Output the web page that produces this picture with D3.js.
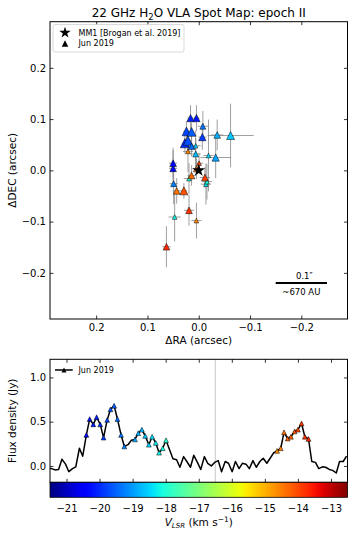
<!DOCTYPE html>
<html>
<head>
<meta charset="utf-8">
<script src="https://cdn.jsdelivr.net/npm/d3@7"></script>
<style>
body { margin: 0; background: #fff; }
svg { display: block; font-family: "DejaVu Sans", sans-serif; }
</style>
</head>
<body>
<div id="chart"></div>
<script>
// spectrum channels (km/s) and flux density (Jy)
const chanVel = [-21.56, -21.45, -21.35, -21.24, -21.14, -21.03, -20.93, -20.82, -20.72, -20.61,
    -20.51, -20.40, -20.30, -20.19, -20.09, -19.98, -19.88, -19.77, -19.67, -19.56,
    -19.46, -19.35, -19.25, -19.14, -19.04, -18.93, -18.83, -18.72, -18.62, -18.51,
    -18.41, -18.30, -18.20, -18.09, -17.99, -17.88, -17.78, -17.67, -17.57, -17.46,
    -17.36, -17.25, -17.15, -17.04, -16.94, -16.83, -16.73, -16.62, -16.52, -16.41,
    -16.31, -16.20, -16.10, -15.99, -15.89, -15.78, -15.68, -15.57, -15.47, -15.36,
    -15.26, -15.15, -15.05, -14.94, -14.84, -14.73, -14.63, -14.52, -14.42, -14.31,
    -14.21, -14.10, -14.00, -13.89, -13.79, -13.68, -13.58, -13.47, -13.37, -13.26,
    -13.16, -13.05, -12.95, -12.84, -12.74, -12.63, -12.53];
const chanFlux = [-0.03, -0.03, -0.045, -0.04, 0.075, 0.02, -0.065, -0.03, -0.01, 0.2,
    0.11, 0.35, 0.53, 0.47, 0.55, 0.47, 0.32, 0.52, 0.64, 0.68,
    0.53, 0.35, 0.22, 0.24, 0.29, 0.30, 0.37, 0.41, 0.34, 0.24,
    0.33, 0.26, 0.15, 0.20, 0.29, 0.18, 0.08, 0.07, -0.015, 0.105,
    0.05, -0.015, 0.12, 0.04, -0.04, 0.105, 0.03, 0.0, 0.04, 0.06,
    -0.065, 0.05, 0.03, -0.065, 0.05, -0.03, 0.03, 0.02, -0.03, 0.06,
    -0.015, 0.05, 0.087, 0.03, 0.087, 0.15, 0.17, 0.20, 0.38, 0.31,
    0.33, 0.39, 0.41, 0.48, 0.33, 0.305, 0.05, 0.04, -0.03, -0.01,
    -0.015, -0.04, -0.05, -0.08, 0.05, 0.05, 0.11];

// maser spots (one per marked channel)
const spotVel = [-20.40, -20.30, -20.19, -20.09, -19.98, -19.88, -19.77, -19.67, -19.56, -19.46, -19.35, -19.25,
    -18.93, -18.83, -18.72, -18.62, -18.51, -18.41, -18.30, -18.20, -18.09, -17.99,
    -14.63, -14.52, -14.42, -14.31, -14.21, -14.10, -14.00, -13.89, -13.79, -13.68];
const spotRA = [0.050, 0.050, 0.0045, 0.016, 0.027, -0.007, 0.024, 0.021, 0.014, 0.014, -0.008, 0.049,
    -0.033, -0.036, 0.006, -0.062, 0.006, -0.019, -0.014, 0.047, 0.019, -0.016,
    0.0045, 0.021, 0.043, 0.014, 0.0045, 0.029, -0.0006, -0.012, 0.019, 0.063];
const spotDEC = [0.004, 0.014, 0.102, 0.102, 0.053, 0.065, 0.076, 0.058, 0.075, 0.047, 0.086, -0.026,
    0.025, 0.069, 0.032, 0.068, 0.048, 0.029, -0.027, -0.091, -0.016, -0.022,
    -0.098, 0.037, -0.040, -0.010, 0.003, -0.040, 0.014, -0.014, -0.078, -0.149];
const spotRAerr = [0.008, 0.008, 0.006, 0.006, 0.006, 0.008, 0.006, 0.005, 0.005, 0.006, 0.010, 0.008,
    0.030, 0.012, 0.010, 0.045, 0.010, 0.010, 0.010, 0.012, 0.010, 0.010,
    0.010, 0.010, 0.008, 0.008, 0.008, 0.006, 0.008, 0.010, 0.010, 0.008];
const spotDECerr = [0.035, 0.030, 0.025, 0.025, 0.020, 0.025, 0.020, 0.020, 0.018, 0.020, 0.030, 0.040,
    0.040, 0.030, 0.030, 0.062, 0.030, 0.070, 0.040, 0.048, 0.030, 0.035,
    0.035, 0.040, 0.025, 0.020, 0.020, 0.015, 0.020, 0.020, 0.030, 0.040];
const spotPeak = [0.34, 0.34, 0.42, 0.42, 0.67, 0.42, 0.60, 0.67, 0.60, 0.34, 0.25, 0.25,
    0.42, 0.34, 0.25, 0.51, 0.09, 0.09, 0.09, 0.09, 0.09, 0.09,
    0.09, 0.09, 0.34, 0.34, 0.25, 0.51, 0.09, 0.34, 0.34, 0.34];

const mm1 = [0.0, 0.0];
const raTicks = [0.2, 0.1, 0.0, -0.1, -0.2];
const decTicks = [0.2, 0.1, 0.0, -0.1, -0.2];
const velTicks = [-21, -20, -19, -18, -17, -16, -15, -14, -13];
const fluxTicks = [0.0, 0.5, 1.0];
const velRange = [-21.5, -12.5];
const markVel = -16.5;

// matplotlib jet
const jr = d3.scaleLinear().domain([0, 0.35, 0.66, 0.89, 1]).range([0, 0, 1, 1, 0.5]).clamp(true);
const jg = d3.scaleLinear().domain([0, 0.125, 0.375, 0.64, 0.91, 1]).range([0, 0, 1, 1, 0, 0]).clamp(true);
const jb = d3.scaleLinear().domain([0, 0.11, 0.34, 0.65, 1]).range([0.5, 1, 1, 0, 0]).clamp(true);
const jet = t => d3.rgb(255 * jr(t), 255 * jg(t), 255 * jb(t)).formatHex();
const tScale = d3.scaleLinear().domain(velRange).range([0, 1]).clamp(true);
const velColor = v => jet(tScale(v));

const tri = w => `M0,${-w / 2}L${w / 2},${w / 2}L${-w / 2},${w / 2}Z`;
const fmt = d3.format(".1f");

const svg = d3.select("#chart").append("svg").attr("width", 354).attr("height", 537);

// ---------- spot map ----------
const mx0 = 50, mx1 = 347.5, my0 = 21.7, my1 = 319;
const xMap = d3.scaleLinear().domain([0.29, -0.29]).range([mx0, mx1]);
const yMap = d3.scaleLinear().domain([-0.29, 0.29]).range([my1, my0]);

function styleAxis(g) {
    g.select(".domain").remove();
    g.selectAll(".tick line").attr("stroke", "#000").attr("stroke-width", 0.8);
    g.selectAll(".tick text").attr("font-size", 10).attr("fill", "#000")
        .attr("font-family", "DejaVu Sans");
}

svg.append("g").attr("transform", `translate(0,${my1})`)
    .call(d3.axisBottom(xMap).tickValues(raTicks).tickFormat(fmt).tickSizeInner(-3.5).tickSizeOuter(0).tickPadding(5))
    .call(styleAxis);
svg.append("g").attr("transform", `translate(0,${my0})`)
    .call(d3.axisTop(xMap).tickValues(raTicks).tickFormat("").tickSizeInner(-3.5).tickSizeOuter(0))
    .call(styleAxis);
svg.append("g").attr("transform", `translate(${mx0},0)`)
    .call(d3.axisLeft(yMap).tickValues(decTicks).tickFormat(fmt).tickSizeInner(-3.5).tickSizeOuter(0).tickPadding(4))
    .call(styleAxis);
svg.append("g").attr("transform", `translate(${mx1},0)`)
    .call(d3.axisRight(yMap).tickValues(decTicks).tickFormat("").tickSizeInner(-3.5).tickSizeOuter(0))
    .call(styleAxis);

const spots = spotVel.map((v, i) => ({v: v, ra: spotRA[i], dec: spotDEC[i],
    ex: spotRAerr[i], ey: spotDECerr[i], peak: spotPeak[i]}));
const sizeScale = d3.scaleLinear().domain([0, 0.7]).range([4, 9.5]);

const errG = svg.append("g").attr("stroke", "#808080").attr("stroke-opacity", 0.75).attr("stroke-width", 1);
errG.selectAll("line.ex").data(spots).enter().append("line").attr("class", "ex")
    .attr("x1", d => xMap(d.ra + d.ex)).attr("x2", d => xMap(d.ra - d.ex))
    .attr("y1", d => yMap(d.dec)).attr("y2", d => yMap(d.dec));
errG.selectAll("line.ey").data(spots).enter().append("line").attr("class", "ey")
    .attr("x1", d => xMap(d.ra)).attr("x2", d => xMap(d.ra))
    .attr("y1", d => yMap(d.dec + d.ey)).attr("y2", d => yMap(d.dec - d.ey));

svg.append("g").selectAll("path").data(spots).enter().append("path")
    .attr("d", d => tri(sizeScale(d.peak)))
    .attr("transform", d => `translate(${xMap(d.ra)},${yMap(d.dec)})`)
    .attr("fill", d => velColor(d.v))
    .attr("stroke", "#000").attr("stroke-width", 0.5);

svg.append("path").attr("d", d3.symbol(d3.symbolStar, 50)())
    .attr("transform", `translate(${xMap(mm1[0])},${yMap(mm1[1])})`)
    .attr("fill", "#000");

svg.append("rect").attr("x", mx0).attr("y", my0).attr("width", mx1 - mx0).attr("height", my1 - my0)
    .attr("fill", "none").attr("stroke", "#000").attr("stroke-width", 1);

// scale bar
svg.append("line").attr("x1", xMap(-0.15)).attr("x2", xMap(-0.25))
    .attr("y1", yMap(-0.22)).attr("y2", yMap(-0.22))
    .attr("stroke", "#000").attr("stroke-width", 2);
svg.append("text").attr("x", xMap(-0.2) + 3).attr("y", yMap(-0.22) - 4.5)
    .attr("text-anchor", "middle").attr("font-size", 8.5).text("0.1\u2033");
svg.append("text").attr("x", xMap(-0.2)).attr("y", yMap(-0.22) + 11.5)
    .attr("text-anchor", "middle").attr("font-size", 8.5).text("~670 AU");

// legend
const lg = svg.append("g");
lg.append("rect").attr("x", 53).attr("y", 24.5).attr("width", 131).attr("height", 27.5).attr("rx", 2)
    .attr("fill", "#fff").attr("fill-opacity", 0.8).attr("stroke", "#d0d0d0").attr("stroke-width", 0.8);
lg.append("path").attr("d", d3.symbol(d3.symbolStar, 40)()).attr("transform", "translate(65,32.7)").attr("fill", "#000");
lg.append("path").attr("d", tri(6.5)).attr("transform", "translate(65,43.5)").attr("fill", "#000");
lg.append("text").attr("x", 78.5).attr("y", 35.6).attr("font-size", 8).text("MM1 [Brogan et al. 2019]");
lg.append("text").attr("x", 78.5).attr("y", 46.3).attr("font-size", 8).text("Jun 2019");

// titles
const title = svg.append("text").attr("x", 198.75).attr("y", 17).attr("text-anchor", "middle").attr("font-size", 12);
title.append("tspan").text("22 GHz H");
title.append("tspan").attr("font-size", 8.5).attr("dy", 2.5).text("2");
title.append("tspan").attr("dy", -2.5).text("O VLA Spot Map: epoch II");

svg.append("text").attr("x", (mx0 + mx1) / 2).attr("y", 344).attr("text-anchor", "middle")
    .attr("font-size", 10.5).text("\u0394RA (arcsec)");
svg.append("text").attr("transform", `translate(16,${(my0 + my1) / 2}) rotate(-90)`)
    .attr("text-anchor", "middle").attr("font-size", 10.5).text("\u0394DEC (arcsec)");

// ---------- spectrum ----------
const sx0 = 50, sx1 = 347.5, sy0 = 359.3, sy1 = 482.3;
const xVel = d3.scaleLinear().domain(velRange).range([sx0, sx1]);
const yFlux = d3.scaleLinear().domain([-0.185, 1.205]).range([sy1, sy0]);

svg.append("clipPath").attr("id", "specClip").append("rect")
    .attr("x", sx0).attr("y", sy0).attr("width", sx1 - sx0).attr("height", sy1 - sy0);

svg.append("line").attr("x1", xVel(markVel)).attr("x2", xVel(markVel)).attr("y1", sy0).attr("y2", sy1)
    .attr("stroke", "#c8c8c8").attr("stroke-width", 1);

const specData = chanVel.map((v, i) => ({v: v, f: chanFlux[i]}));
svg.append("path").datum(specData).attr("clip-path", "url(#specClip)")
    .attr("d", d3.line().x(d => xVel(d.v)).y(d => yFlux(d.f)))
    .attr("fill", "none").attr("stroke", "#000").attr("stroke-width", 1.5).attr("stroke-linejoin", "round");

const specMarks = spotVel.map(v => ({v: v, f: chanFlux[chanVel.indexOf(v)]}));
svg.append("g").selectAll("path").data(specMarks).enter().append("path")
    .attr("d", tri(4.8))
    .attr("transform", d => `translate(${xVel(d.v)},${yFlux(d.f)})`)
    .attr("fill", d => velColor(d.v)).attr("stroke", "#000").attr("stroke-width", 0.5);

svg.append("g").attr("transform", `translate(0,${sy1})`)
    .call(d3.axisBottom(xVel).tickValues(velTicks).tickFormat("").tickSizeInner(-3.5).tickSizeOuter(0))
    .call(styleAxis);
svg.append("g").attr("transform", `translate(0,${sy0})`)
    .call(d3.axisTop(xVel).tickValues(velTicks).tickFormat("").tickSizeInner(-3.5).tickSizeOuter(0))
    .call(styleAxis);
svg.append("g").attr("transform", `translate(${sx0},0)`)
    .call(d3.axisLeft(yFlux).tickValues(fluxTicks).tickFormat(fmt).tickSizeInner(-3.5).tickSizeOuter(0).tickPadding(4))
    .call(styleAxis);
svg.append("g").attr("transform", `translate(${sx1},0)`)
    .call(d3.axisRight(yFlux).tickValues(fluxTicks).tickFormat("").tickSizeInner(-3.5).tickSizeOuter(0))
    .call(styleAxis);

svg.append("rect").attr("x", sx0).attr("y", sy0).attr("width", sx1 - sx0).attr("height", sy1 - sy0)
    .attr("fill", "none").attr("stroke", "#000").attr("stroke-width", 1);

svg.append("text").attr("transform", `translate(16,${(sy0 + sy1) / 2}) rotate(-90)`)
    .attr("text-anchor", "middle").attr("font-size", 10.5).text("Flux density (Jy)");

// spectrum legend
svg.append("line").attr("x1", 55).attr("x2", 72.7).attr("y1", 370).attr("y2", 370)
    .attr("stroke", "#000").attr("stroke-width", 1.5);
svg.append("path").attr("d", tri(5)).attr("transform", "translate(64,370)").attr("fill", "#000");
svg.append("text").attr("x", 78.5).attr("y", 372.8).attr("font-size", 8).text("Jun 2019");

// ---------- colorbar ----------
const cy0 = 482.3, cy1 = 497.3;
const grad = svg.append("defs").append("linearGradient").attr("id", "jetGrad")
    .attr("x1", "0%").attr("x2", "100%").attr("y1", "0%").attr("y2", "0%");
d3.range(0, 1.0001, 0.02).forEach(t => {
    grad.append("stop").attr("offset", (t * 100) + "%").attr("stop-color", jet(t));
});
svg.append("rect").attr("x", sx0).attr("y", cy0).attr("width", sx1 - sx0).attr("height", cy1 - cy0)
    .attr("fill", "url(#jetGrad)").attr("stroke", "#000").attr("stroke-width", 0.8);

svg.append("g").attr("transform", `translate(0,${cy1})`)
    .call(d3.axisBottom(xVel).tickValues(velTicks).tickFormat(d3.format("d")).tickSizeInner(0).tickSizeOuter(0).tickPadding(8))
    .call(styleAxis);

const clab = svg.append("text").attr("x", 198.75).attr("y", 526).attr("text-anchor", "middle").attr("font-size", 10.5);
clab.append("tspan").attr("font-style", "italic").text("V");
clab.append("tspan").attr("font-style", "italic").attr("font-size", 7).attr("dy", 2).text("LSR");
clab.append("tspan").attr("dy", -2).text(" (km s");
clab.append("tspan").attr("font-size", 7.5).attr("dy", -4).text("\u22121");
clab.append("tspan").attr("dy", 4).text(")");
</script>
</body>
</html>
